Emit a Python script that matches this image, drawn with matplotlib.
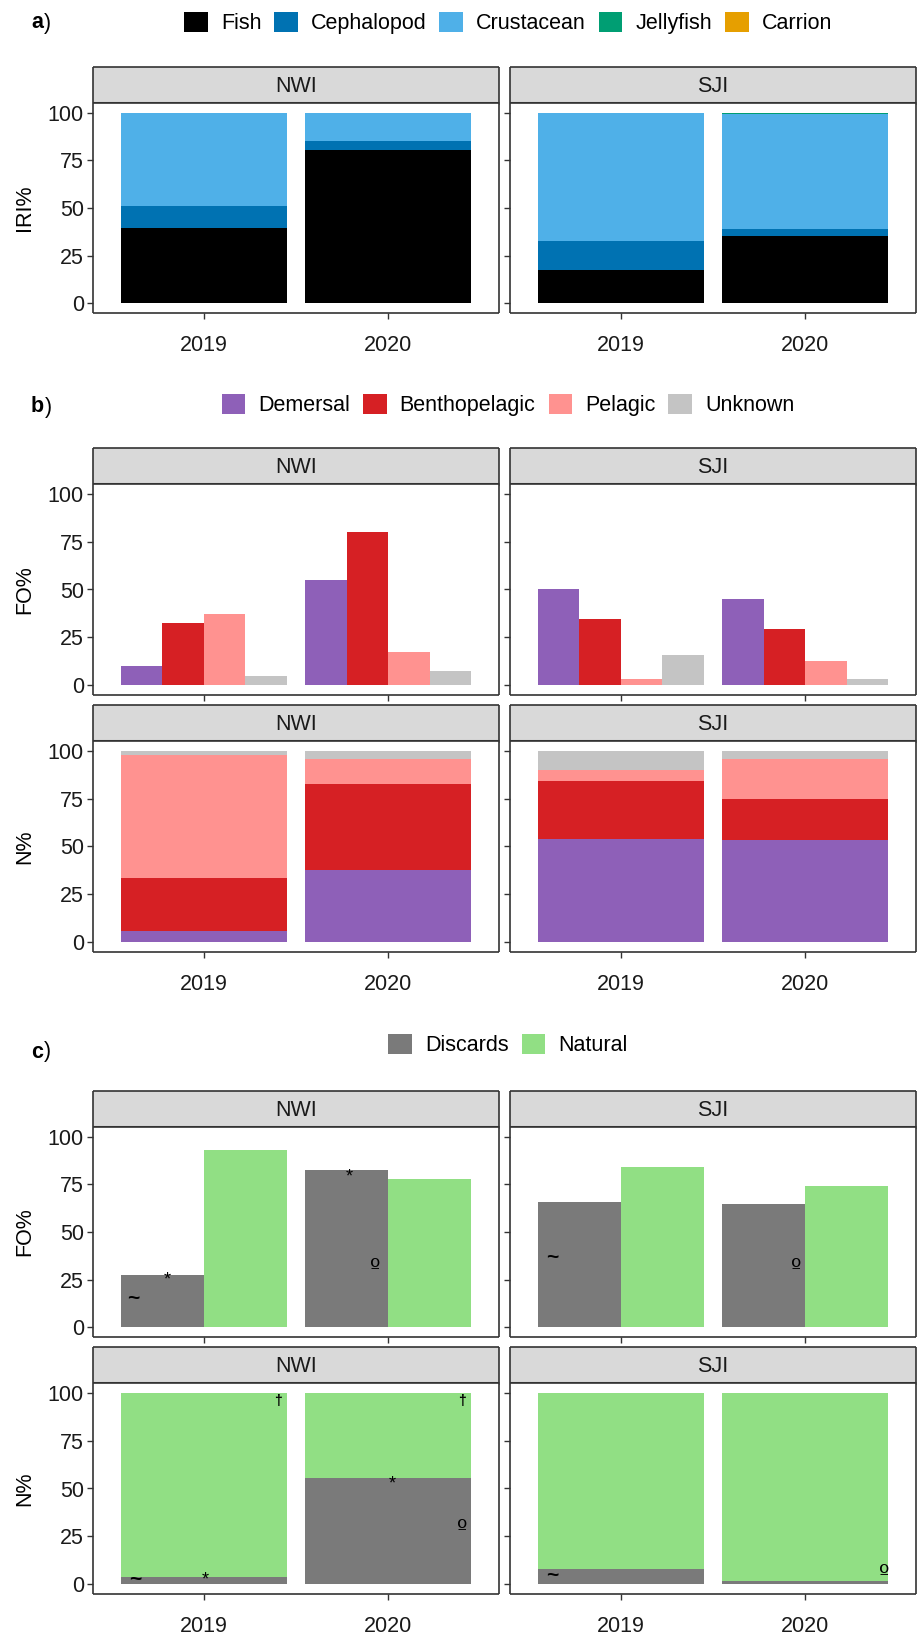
import numpy as np
import matplotlib
matplotlib.use('Agg')
import matplotlib.pyplot as plt
from matplotlib.patches import Patch

plt.rcParams['font.family'] = ['Liberation Sans', 'DejaVu Sans']

# ---- data ----
years = ['2019', '2020']
sites = ['NWI', 'SJI']

# a) IRI% by prey group (stacked segments, rows = groups, cols = years)
prey_groups = ['Fish', 'Cephalopod', 'Crustacean', 'Jellyfish', 'Carrion']
prey_colors = ['#000000', '#0072B2', '#4FB0E8', '#009E73', '#E69F00']
iri_nwi = [[39.4, 80.5], [11.6, 4.5], [49.0, 15.0], [0.0, 0.0], [0.0, 0.0]]
iri_sji = [[17.5, 35.3], [15.3, 3.5], [67.2, 60.6], [0.0, 0.3], [0.0, 0.3]]

# b) fish habitat, FO% (dodged) and N% (stacked)
habitats = ['Demersal', 'Benthopelagic', 'Pelagic', 'Unknown']
hab_colors = ['#8E60B8', '#D62024', '#FF9290', '#C4C4C4']
fo_hab_nwi = [[10.1, 55.0], [32.5, 80.0], [37.3, 17.4], [5.0, 7.5]]
fo_hab_sji = [[50.0, 45.1], [34.4, 29.2], [3.1, 12.8], [15.6, 3.1]]
n_hab_nwi = [[5.7, 37.5], [27.8, 45.0], [64.2, 12.9], [2.3, 4.6]]
n_hab_sji = [[53.8, 53.6], [30.6, 21.1], [5.3, 21.1], [10.3, 4.2]]

# c) prey origin, FO% (dodged) and N% (stacked)
origins = ['Discards', 'Natural']
orig_colors = ['#7A7A7A', '#91DF84']
fo_orig_nwi = [[27.6, 82.6], [92.7, 77.7]]
fo_orig_sji = [[65.7, 64.7], [84.3, 74.3]]
n_orig_nwi = [[4.1, 55.7], [95.9, 44.3]]
n_orig_sji = [[8.2, 1.6], [91.8, 98.4]]

# significance symbols in c): (text, x position in category units, y value)
sym_fo_nwi = [('~', 0.62, 15), ('*', 0.80, 25), ('*', 1.79, 79), ('º', 1.93, 31)]
sym_fo_sji = [('~', 0.63, 36.5), ('º', 1.95, 31)]
sym_n_nwi = [('~', 0.63, 2.8), ('*', 1.01, 2.5), ('†', 1.40, 95.4),
             ('*', 2.02, 52.5), ('º', 2.40, 28.9), ('†', 2.40, 95.4)]
sym_n_sji = [('~', 0.63, 4.6), ('º', 2.43, 5.5)]

# ---- layout (pixels) ----
W, H = 917, 1635
fig = plt.figure(figsize=(W / 100, H / 100), dpi=100)
FS = 15.5
DARK = '#333333'
cols = [(93, 499), (510, 916)]


def px_axes(x0, y0, x1, y1):
    return fig.add_axes([x0 / W, 1 - y1 / H, (x1 - x0) / W, (y1 - y0) / H])


def strip(x0, x1, y0, y1, label):
    ax = px_axes(x0, y0, x1, y1)
    ax.set_facecolor('#D9D9D9')
    ax.set_xticks([])
    ax.set_yticks([])
    for s in ax.spines.values():
        s.set_color(DARK)
        s.set_linewidth(1.2)
        s.set_capstyle('butt')
    ax.spines['bottom'].set_linewidth(2.2)
    ax.text(0.5, 0.47, label, ha='center', va='center', fontsize=FS,
            color='#1A1A1A', transform=ax.transAxes)


def panel(x0, x1, y0, y1, left, bottom):
    ax = px_axes(x0, y0, x1, y1)
    ax.set_xlim(0.4, 2.6)
    ax.set_ylim(-5, 105)
    ax.set_yticks([0, 25, 50, 75, 100])
    ax.set_xticks([1, 2])
    ax.set_xticklabels(years if bottom else [])
    if not left:
        ax.set_yticklabels([])
    ax.tick_params(length=4.5, width=1, color=DARK, labelsize=FS,
                   labelcolor='#1A1A1A', pad=2)
    ax.tick_params(axis='x', pad=11)
    for s in ax.spines.values():
        s.set_color(DARK)
        s.set_linewidth(1.2)
        s.set_capstyle('butt')
    return ax


def stacked(ax, values, colors):
    x = np.arange(1, len(years) + 1)
    bottom = np.zeros(len(years))
    for vals, c in zip(values, colors):
        ax.bar(x, vals, width=0.9, bottom=bottom, color=c, edgecolor='none')
        bottom = bottom + np.array(vals)


def dodged(ax, values, colors):
    x = np.arange(1, len(years) + 1)
    n = len(values)
    w = 0.9 / n
    for i, (vals, c) in enumerate(zip(values, colors)):
        ax.bar(x - 0.45 + w * (i + 0.5), vals, width=w, color=c, edgecolor='none')


def symbols(ax, syms):
    for t, sx, sy in syms:
        if t == '~':
            ax.text(sx, sy, t, ha='center', va='center', fontsize=15,
                    fontweight='bold', color='black')
        elif t == 'º':
            ax.text(sx, sy, t, ha='center', va='center', fontsize=16,
                    color='black', family='DejaVu Sans')
        elif t == '†':
            ax.text(sx, sy, t, ha='center', va='center', fontsize=10,
                    fontweight='bold', color='black')
        else:
            ax.text(sx, sy, t, ha='center', va='center', fontsize=13,
                    color='black')


def ylabel(text, y0, y1):
    fig.text(25 / W, 1 - (y0 + y1) / 2 / H, text, rotation=90, ha='center',
             va='center', fontsize=FS)


def tag(letter, y):
    t = fig.text(31 / W, 1 - y / H, letter, fontweight='bold', fontsize=FS,
                 ha='left', va='center')
    r = fig.canvas.get_renderer()
    bb = t.get_window_extent(renderer=r)
    fig.text((bb.x1 + 1) / W, 1 - y / H, ')', fontsize=FS, ha='left', va='center')


def legend(labels, colors, y):
    handles = [Patch(facecolor=c, edgecolor='none', label=l) for l, c in zip(labels, colors)]
    fig.legend(handles=handles, loc='center', bbox_to_anchor=(508 / W, 1 - y / H),
               ncol=len(labels), frameon=False, fontsize=FS, handlelength=1.1,
               handleheight=1.1, handletextpad=0.6, columnspacing=0.6,
               borderaxespad=0, borderpad=0)


# ---- a) ----
tag('a', 23)
legend(prey_groups, prey_colors, 23)
for (x0, x1), site, vals in zip(cols, sites, [iri_nwi, iri_sji]):
    strip(x0, x1, 67, 103, site)
    ax = panel(x0, x1, 103, 313, x0 == 93, True)
    stacked(ax, vals, prey_colors)
ylabel('IRI%', 103, 313)

# ---- b) ----
tag('b', 407)
legend(habitats, hab_colors, 405)
for (x0, x1), site, fo, nn in zip(cols, sites, [fo_hab_nwi, fo_hab_sji],
                                   [n_hab_nwi, n_hab_sji]):
    strip(x0, x1, 448, 484, site)
    ax = panel(x0, x1, 484, 695, x0 == 93, False)
    dodged(ax, fo, hab_colors)
    strip(x0, x1, 705, 741, site)
    ax = panel(x0, x1, 741, 952, x0 == 93, True)
    stacked(ax, nn, hab_colors)
ylabel('FO%', 484, 695)
ylabel('N%', 741, 952)

# ---- c) ----
tag('c', 1052)
legend(origins, orig_colors, 1045)
for (x0, x1), site, fo, nn, sf, sn in zip(cols, sites, [fo_orig_nwi, fo_orig_sji],
                                          [n_orig_nwi, n_orig_sji],
                                          [sym_fo_nwi, sym_fo_sji],
                                          [sym_n_nwi, sym_n_sji]):
    strip(x0, x1, 1091, 1127, site)
    ax = panel(x0, x1, 1127, 1337, x0 == 93, False)
    dodged(ax, fo, orig_colors)
    symbols(ax, sf)
    strip(x0, x1, 1347, 1383, site)
    ax = panel(x0, x1, 1383, 1594, x0 == 93, True)
    stacked(ax, nn, orig_colors)
    symbols(ax, sn)
ylabel('FO%', 1127, 1337)
ylabel('N%', 1383, 1594)

fig.savefig('out.png', dpi=100)
